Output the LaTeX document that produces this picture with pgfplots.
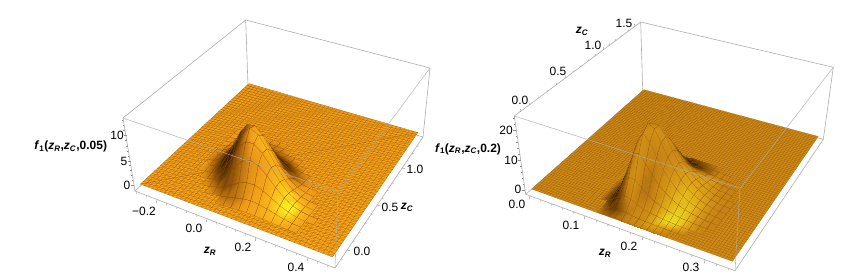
\documentclass[border=0pt]{standalone}
\usepackage{pgfplots}
\usepackage{pgfplotstable}
\usepackage{fontspec}
\setmainfont{Liberation Sans}
\pgfplotsset{compat=1.18}
% projection of the box (unit coordinates u,v,w) to the page
\def\LX#1#2#3{((135+159.97*(#1)+163.34*(#2)-18.15*(#3))/(1-.1195*(#1)+.203*(#2)-.05*(#3)))}
\def\LY#1#2#3{((191+44.97*(#1)-87.54*(#2)-78.9*(#3))/(1-.1195*(#1)+.203*(#2)-.05*(#3)))}
\def\RX#1#2#3{((525.7+114.26*(#1)+259.7*(#2)-42.26*(#3))/(1-.1293*(#1)+.222*(#2)-.06*(#3)))}
\def\RY#1#2#3{((194.3+41.4*(#1)-83.46*(#2)-85.26*(#3))/(1-.1293*(#1)+.222*(#2)-.06*(#3)))}
\def\LU{(.19+.04*mod(\coordindex,17))}
\def\LV{(.59-.04*floor(\coordindex/17))}
\def\LW{(.082+\thisrow{f}/14.5)}
\def\RU{(.30+.03*mod(\coordindex,19))}
\def\RV{(.54-.04*floor(\coordindex/19))}
\def\RW{(.055+\thisrow{f}/26)}
\pgfplotstableread[row sep=crcr]{f s\\
.03 0\\.05 0\\.08 0\\.1 0\\.1 0\\.08 0\\.06 0\\.03 0\\nan 0\\nan 0\\nan 0\\nan 0\\nan 0\\nan 0\\nan 0\\nan 0\\nan 0\\
.07 0\\.13 0\\.22 -.1\\.29 -.1\\.32 -.2\\.29 -.2\\.22 -.2\\.13 -.1\\.07 0\\nan 0\\nan 0\\nan 0\\nan 0\\nan 0\\nan 0\\nan 0\\nan 0\\
.12 0\\.27 -.1\\.48 -.1\\.71 -.2\\.83 -.3\\.83 -.3\\.68 -.3\\.45 -.3\\.25 -.2\\.11 -.05\\.05 0\\nan 0\\nan 0\\nan 0\\nan 0\\nan 0\\nan 0\\
.19 0\\.45 -.1\\.87 -.2\\1.4 -.3\\1.81 -.4\\1.95 -.4\\1.73 -.4\\1.27 -.5\\.78 -.5\\.39 -.3\\.17 -.1\\.06 0\\nan 0\\nan 0\\nan 0\\nan 0\\nan 0\\
.24 0\\.62 -.2\\1.3 -.3\\2.27 -.4\\3.21 -.5\\3.78 -.5\\3.63 -.5\\2.9 -.6\\1.92 -.8\\1.06 -.9\\.5 -.5\\.2 -.15\\.07 -.05\\nan 0\\nan 0\\nan 0\\nan 0\\
.25 -.1\\.7 -.2\\1.6 -.5\\3.03 -.6\\4.68 -.7\\5.98 -.7\\6.25 -.6\\5.39 -.6\\3.91 -.8\\2.35 -1\\1.21 -.8\\.52 -.35\\.19 -.1\\.06 0\\nan 0\\nan 0\\nan 0\\
.21 -.1\\.65 -.35\\1.6 -.7\\3.31 -.9\\5.59 -.9\\7.76 -.8\\8.83 -.5\\8.34 -.3\\6.53 -.4\\4.3 -.7\\2.39 -.7\\1.14 -.4\\.45 -.15\\.15 0\\.04 0\\nan 0\\nan 0\\
.15 -.1\\.49 -.35\\1.32 -.7\\2.97 -1\\5.48 -1\\8.27 -.9\\10.24 -.5\\10.52 .1\\8.96 .3\\6.45 .1\\3.92 -.1\\2.02 -.1\\.88 0\\.32 .1\\.1 0\\nan 0\\nan 0\\
.08 0\\.31 -.2\\.9 -.6\\2.18 -1\\4.41 -1\\7.25 -.9\\9.74 -.6\\10.89 0\\10.1 .4\\7.92 .5\\5.25 .4\\2.94 .3\\1.39 .3\\.56 .3\\.19 .1\\.05 0\\nan 0\\
.04 0\\.16 -.1\\.5 -.4\\1.32 -.8\\2.91 -.9\\5.2 -.8\\7.61 -.5\\9.24 -.2\\9.32 .1\\8 .1\\5.77 .3\\3.51 .6\\1.8 .8\\.79 .6\\.29 .3\\.09 .1\\nan 0\\
nan 0\\.07 0\\.23 -.15\\.66 -.45\\1.58 -.8\\3.06 -.7\\4.88 -.5\\6.45 -.3\\7.07 -.1\\6.63 0\\5.19 .2\\3.45 .5\\1.92 .8\\.91 1\\.36 .5\\.12 .15\\.04 0\\
nan 0\\nan 0\\.08 0\\.23 -.15\\.6 -.4\\1.27 -.6\\2.18 -.5\\3.14 -.3\\3.74 -.1\\3.83 0\\3.27 .2\\2.35 .5\\1.43 .9\\.74 1\\.32 .5\\.12 .15\\.04 0\\
nan 0\\nan 0\\nan 0\\.06 0\\.18 -.15\\.41 -.3\\.78 -.35\\1.21 -.3\\1.58 -.1\\1.76 .1\\1.64 .2\\1.28 .4\\.85 .6\\.48 .6\\.22 .3\\.09 .1\\nan 0\\
nan 0\\nan 0\\nan 0\\nan 0\\nan 0\\.08 -.05\\.16 -.1\\.26 -.1\\.38 0\\.46 .1\\.47 .2\\.4 .3\\.28 .3\\.18 .2\\.09 .05\\.04 0\\nan 0\\
}\LT
\pgfplotstableread[row sep=crcr]{f s\\
nan 0\\nan 0\\nan 0\\nan 0\\nan 0\\.12 -.1\\.29 -.4\\.42 -.5\\.48 -.5\\.43 -.4\\.32 -.3\\.22 -.15\\.15 -.05\\.09 0\\nan 0\\nan 0\\nan 0\\nan 0\\nan 0\\
nan 0\\nan 0\\nan 0\\nan 0\\.13 -.1\\.41 -.5\\.9 -.8\\1.26 -.9\\1.37 -.9\\1.17 -.8\\.87 -.6\\.61 -.4\\.41 -.2\\.26 0\\.12 0\\.05 0\\nan 0\\nan 0\\nan 0\\
nan 0\\nan 0\\nan 0\\.09 -.05\\.41 -.4\\1.19 -.7\\2.42 -.9\\3.15 -1\\3.22 -1\\2.7 -1\\2 -.8\\1.4 -.5\\.94 -.2\\.6 0\\.3 0\\.14 0\\.05 0\\nan 0\\nan 0\\
nan 0\\nan 0\\.05 0\\.27 -.2\\1.1 -.7\\2.92 -.8\\5.37 -.9\\6.51 -1\\6.39 -1\\5.27 -.9\\3.9 -.7\\2.73 0\\1.83 .3\\1.17 .3\\.61 .2\\.29 0\\.12 0\\.04 0\\nan 0\\
nan 0\\nan 0\\.12 -.1\\.67 -.6\\2.44 -.8\\5.95 -.8\\9.94 -.8\\11.47 -.9\\10.62 -.8\\8.6 -.6\\6.37 -.3\\4.46 .1\\2.99 .4\\1.91 .4\\1.04 .2\\.51 .1\\.23 0\\.08 0\\nan 0\\
nan 0\\.03 0\\.27 -.2\\1.36 -.8\\4.52 -.9\\10.08 -.8\\15.47 -.5\\16.65 -.2\\14.79 -.1\\11.75 0\\8.7 .1\\6.09 .3\\4.09 .4\\2.61 .4\\1.48 .3\\.76 .1\\.35 0\\.13 0\\.03 0\\
nan 0\\.06 0\\.48 -.4\\2.3 -.9\\7.03 -.9\\14.35 -.6\\20.15 -.3\\20.29 .1\\17.27 .2\\13.43 .1\\9.95 .2\\6.97 .4\\4.68 .5\\2.98 .5\\1.76 .4\\.95 .2\\.46 .1\\.17 0\\.04 0\\
nan 0\\.1 -.1\\.73 -.6\\3.28 -1\\9.16 -.8\\17.1 -.4\\22 0\\20.7 .2\\16.9 .1\\12.8 .1\\9.5 .2\\6.65 .4\\4.46 .6\\2.85 .6\\1.76 .5\\.99 .3\\.5 .1\\.2 0\\.05 0\\
nan 0\\.13 -.15\\.93 -.7\\3.91 -1\\10 -.7\\17.1 -.2\\20.15 .2\\17.75 .1\\13.88 0\\10.26 .1\\7.6 .3\\5.32 .5\\3.57 .7\\2.28 .7\\1.48 .6\\.87 .3\\.46 .1\\.19 0\\.05 0\\
nan 0\\.15 -.15\\1 -.7\\3.91 -1\\9.16 -.6\\14.35 -.1\\15.47 .2\\12.75 0\\9.56 -.1\\6.89 .1\\5.1 .3\\3.57 .6\\2.4 .7\\1.53 .8\\1.04 .6\\.64 .3\\.35 .1\\.15 0\\.04 0\\
nan 0\\.12 -.15\\.76 -.65\\2.79 -1\\5.98 -.5\\8.57 .1\\8.45 .2\\6.52 -.1\\4.62 -.1\\3.29 .1\\2.44 .4\\1.7 .7\\1.15 .9\\.73 .9\\.52 .7\\.33 .3\\.2 .1\\.09 0\\.03 0\\
nan 0\\.08 -.1\\.47 -.5\\1.61 -.9\\3.16 -.6\\4.17 -.1\\3.76 .1\\2.7 0\\1.84 .1\\1.27 .2\\.95 .5\\.67 .9\\.44 1\\.29 .9\\.21 .6\\.14 .3\\.08 .1\\.04 0\\nan 0\\
nan 0\\nan 0\\.17 -.2\\.54 -.55\\.98 -.7\\1.17 -.4\\.97 -.1\\.66 .1\\.42 .1\\.29 .3\\.21 .5\\.15 .5\\.1 .3\\.06 .1\\.05 0\\.03 0\\nan 0\\nan 0\\nan 0\\
nan 0\\nan 0\\.06 -.05\\.17 -.2\\.28 -.3\\.3 -.2\\.23 -.1\\.15 0\\.09 .05\\.06 .05\\.04 .05\\.03 0\\.03 0\\.03 0\\nan 0\\nan 0\\nan 0\\nan 0\\nan 0\\
}\RT
\pgfplotsset{
 panel/.style={at={(#1,0)},anchor=south west,width=425pt,height=279pt,scale only axis,
   ymin=0,ymax=279,y dir=reverse,hide axis,clip=false,unbounded coords=jump},
 box/.style={draw=black!32,line width=.6pt,mark=none},
 tk/.style={draw=black!45,line width=.4pt,mark=none},
 colormap={lefts}{rgb255=(50,28,3) rgb255=(150,88,10) rgb255=(238,155,25) rgb255=(250,185,28) rgb255=(250,240,35)},
 colormap={rights}{rgb255=(40,22,0) rgb255=(125,75,5) rgb255=(198,130,20) rgb255=(222,165,25) rgb255=(235,220,30)},
}
\definecolor{lline}{RGB}{150,85,10}
\definecolor{rline}{RGB}{140,85,10}
\newcommand\lab[1]{\textbf{#1}}
\begin{document}
\fontsize{12}{14}\selectfont
\begin{tikzpicture}[x=1pt,y=1pt]
\useasboundingbox (0,0) rectangle (850pt,279pt);
\begin{axis}[panel=0pt,xmin=0,xmax=425]
% back of the box
\addplot[box] coordinates {(135,191)(335,268)(423,137)(248,86)(135,191)(123,118)(245.7,20)(430,68)(423,137)};
\addplot[box] coordinates {(245.7,20)(248,86)};
% ticks
\addplot[tk,quiver={u=-.8,v=3.2}] coordinates {(157,200)(207,219)(256,238)(308,258)};
\addplot[tk,quiver={u=-.4,v=1.8}] coordinates {(137,191.8)(147,195.6)(167,203.3)(177,207.2)(187,211)(197,214.9)(217,222.6)(227,226.4)(236,229.9)(246,233.7)(266,241.4)(276,245.3)(287,249.5)(297,253.4)(318,261.5)(328,265.3)};
\addplot[tk,quiver={u=3,v=.6}] coordinates {(347,250)(377,205)(402,168)};
\addplot[tk,quiver={u=1.7,v=.3}] coordinates {(341,259)(353,241)(359,232)(365,223)(371,214)(382,198)(387,190.6)(392,183)(397,175.9)(407,160.8)(412,153.4)(417,146)};
\addplot[tk,quiver={u=-3.2,v=0}] coordinates {(134,185)(131,161)(126.8,135)};
\addplot[tk,quiver={u=-1.7,v=0}] coordinates {(133.2,180)(132.4,175)(131.6,170)(130.7,165)(129.3,156)(128.4,151)(127.6,146)(126.6,140)(125,130)(124.2,125)(123.4,120)};
% flat part of the surface
\addplot[fill={rgb,255:red,248;green,165;blue,25},draw=none] table[row sep=\\,x expr={\LX{.02+.96*\thisrow{u}}{.02+.96*\thisrow{v}}{.082}},y expr={\LY{.02+.96*\thisrow{u}}{.02+.96*\thisrow{v}}{.082}}] {u v\\0 0\\1 0\\1 1\\0 1\\0 0\\};
\pgfplotsinvokeforeach{0,...,44}{
 \addplot[draw=lline,line width=.14pt,mark=none] table[row sep=\\,x expr={\LX{.02+.96*\thisrow{u}/44}{.02+.96*\thisrow{v}/44}{.082}},y expr={\LY{.02+.96*\thisrow{u}/44}{.02+.96*\thisrow{v}/44}{.082}}] {u v\\#1 0\\#1 44\\};
 \addplot[draw=lline,line width=.14pt,mark=none] table[row sep=\\,x expr={\LX{.02+.96*\thisrow{u}/44}{.02+.96*\thisrow{v}/44}{.082}},y expr={\LY{.02+.96*\thisrow{u}/44}{.02+.96*\thisrow{v}/44}{.082}}] {u v\\0 #1\\44 #1\\};
 \addplot[draw=lline,line width=.14pt,mark=none] table[row sep=\\,x expr={\LX{.02+.96*(#1+\thisrow{t}*(44-#1))/44}{.02+.96*(\thisrow{t}*(44-#1))/44}{.082}},y expr={\LY{.02+.96*(#1+\thisrow{t}*(44-#1))/44}{.02+.96*(\thisrow{t}*(44-#1))/44}{.082}}] {t\\0\\1\\};
 \addplot[draw=lline,line width=.14pt,mark=none] table[row sep=\\,x expr={\LX{.02+.96*(\thisrow{t}*(44-#1))/44}{.02+.96*(#1+\thisrow{t}*(44-#1))/44}{.082}},y expr={\LY{.02+.96*(\thisrow{t}*(44-#1))/44}{.02+.96*(#1+\thisrow{t}*(44-#1))/44}{.082}}] {t\\0\\1\\};
}
% the hump
\addplot[surf,shader=faceted interp,faceted color=black!45!orange,line width=.1pt,colormap name=lefts,mesh/cols=17,point meta=\thisrow{s},point meta min=-1,point meta max=1]
 table[x expr={\LX{\LU}{\LV}{\LW}},y expr={\LY{\LU}{\LV}{\LW}}] {\LT};
% front of the box
\addplot[box,draw opacity=.8] coordinates {(123,118)(338,192)(430,68)};
\addplot[box,draw opacity=.8] coordinates {(338,192)(335,268)};
% labels
\node at (axis cs:144,211) {−0.2};
\node at (axis cs:194,228) {0.0};
\node at (axis cs:243,247) {0.2};
\node at (axis cs:296,267) {0.4};
\node at (axis cs:362,251) {0.0};
\node at (axis cs:390,207) {0.5};
\node at (axis cs:415,169) {1.0};
\node at (axis cs:127,185) {0};
\node at (axis cs:124,161) {5};
\node at (axis cs:117,135) {10};
\node at (axis cs:210,251) {\lab{\textit{z}\textsubscript{\textit{R}}}};
\node at (axis cs:407,207) {\lab{\textit{z}\textsubscript{\textit{C}}}};
\node at (axis cs:70.7,146.7) {\lab{\textit{f}\textsubscript{1}(\textit{z}\textsubscript{\textit{R}},\textit{z}\textsubscript{\textit{C}},0.05)}};
\end{axis}
\begin{axis}[panel=425pt,xmin=425,xmax=850]
\addplot[box] coordinates {(525.7,194.3)(735,270.7)(823.3,139.3)(642.7,90.7)(525.7,194.3)(514.3,116)(640.7,22)(833.3,67.3)(823.3,139.3)};
\addplot[box] coordinates {(640.7,22)(642.7,90.7)};
\addplot[tk,quiver={u=-.8,v=3.2}] coordinates {(530,196)(585,216)(643,237)(705,260)};
\addplot[tk,quiver={u=-.4,v=1.8}] coordinates {(541,199.9)(552,203.9)(563,207.9)(574,211.9)(597,220.3)(608,224.3)(620,228.7)(631,232.7)(655,241.5)(667,245.9)(680,250.6)(692,255)(717,264.1)(729,268.5)};
\addplot[tk,quiver={u=.5,v=-3.2}] coordinates {(520,112)(565,78.5)(603,50)(634,27)};
\addplot[tk,quiver={u=.3,v=-1.8}] coordinates {(529,105)(538,98.4)(547,91.7)(556,85)(573,72.3)(580,67.1)(588,61.2)(595,56)(609,45.5)(615,41)(621,36.6)(628,31.4)};
\addplot[tk,quiver={u=-3.2,v=0}] coordinates {(525,190)(520.7,160)(516.3,130)};
\addplot[tk,quiver={u=-1.7,v=0}] coordinates {(524.2,184)(523.3,178)(522.4,172)(521.6,166)(519.8,154)(518.9,148)(518.1,142)(517.2,136)(515.4,124)(514.6,118)};
\addplot[fill={rgb,255:red,208;green,138;blue,22},draw=none] table[row sep=\\,x expr={\RX{.02+.96*\thisrow{u}}{.02+.96*\thisrow{v}}{.055}},y expr={\RY{.02+.96*\thisrow{u}}{.02+.96*\thisrow{v}}{.055}}] {u v\\0 0\\1 0\\1 1\\0 1\\0 0\\};
\pgfplotsinvokeforeach{0,...,70}{
 \addplot[draw=rline,line width=.1pt,mark=none] table[row sep=\\,x expr={\RX{.02+.96*\thisrow{u}/70}{.02+.96*\thisrow{v}/70}{.055}},y expr={\RY{.02+.96*\thisrow{u}/70}{.02+.96*\thisrow{v}/70}{.055}}] {u v\\#1 0\\#1 70\\};
 \addplot[draw=rline,line width=.1pt,mark=none] table[row sep=\\,x expr={\RX{.02+.96*\thisrow{u}/70}{.02+.96*\thisrow{v}/70}{.055}},y expr={\RY{.02+.96*\thisrow{u}/70}{.02+.96*\thisrow{v}/70}{.055}}] {u v\\0 #1\\70 #1\\};
}
\addplot[surf,shader=faceted interp,faceted color=rline,line width=.08pt,colormap name=rights,mesh/cols=19,point meta=\thisrow{s},point meta min=-1,point meta max=1]
 table[x expr={\RX{\RU}{\RV}{\RW}},y expr={\RY{\RU}{\RV}{\RW}}] {\RT};
\addplot[box,draw opacity=.8] coordinates {(514.3,116)(740,188.3)(833.3,67.3)};
\addplot[box,draw opacity=.8] coordinates {(740,188.3)(735,270.7)};
\node at (axis cs:517,204) {0.0};
\node at (axis cs:571,225) {0.1};
\node at (axis cs:629,246) {0.2};
\node at (axis cs:691,267) {0.3};
\node at (axis cs:520,100) {0.0};
\node at (axis cs:558,71) {0.5};
\node at (axis cs:593,45) {1.0};
\node at (axis cs:624,23) {1.5};
\node at (axis cs:518,189) {0};
\node at (axis cs:511,160) {10};
\node at (axis cs:506,130) {20};
\node at (axis cs:605,253) {\lab{\textit{z}\textsubscript{\textit{R}}}};
\node at (axis cs:582,31) {\lab{\textit{z}\textsubscript{\textit{C}}}};
\node at (axis cs:468,149) {\lab{\textit{f}\textsubscript{1}(\textit{z}\textsubscript{\textit{R}},\textit{z}\textsubscript{\textit{C}},0.2)}};
\end{axis}
\end{tikzpicture}
\end{document}
